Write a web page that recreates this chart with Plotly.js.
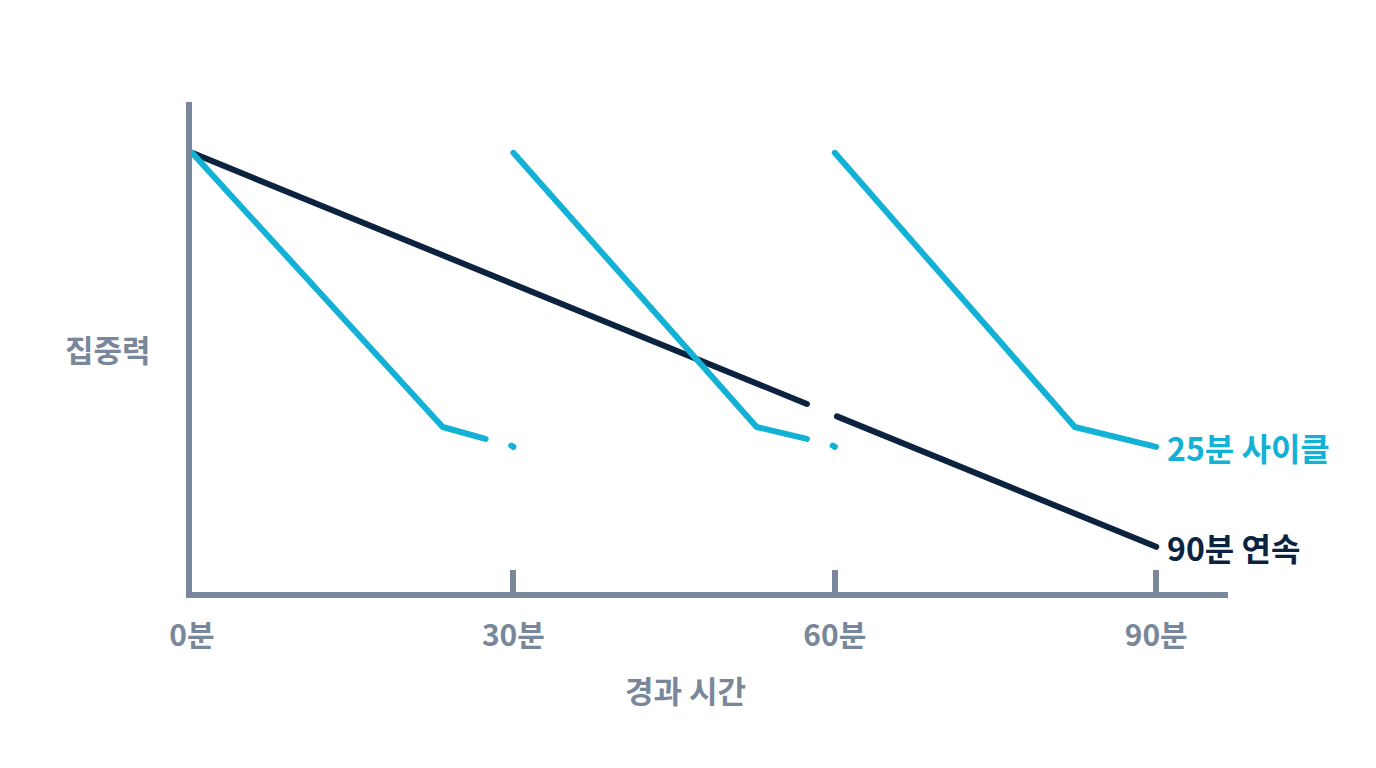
<!DOCTYPE html>
<html>
<head>
<meta charset="utf-8">
<script src="https://cdn.plot.ly/plotly-3.0.1.min.js"></script>
<style>
  html, body { margin: 0; padding: 0; background: #fff; }
  #chart { width: 1376px; height: 768px; }
</style>
</head>
<body>
<div id="chart"></div>
<script>
// Minutes elapsed and concentration level (null = short break in the line)
const cycleMinutes = [0, 23.4, 27.4, null, 29.8, 30, null, 30, 52.7, 57.4, null, 59.8, 60, null, 60, 82.4, 90];
const cycleFocus   = [100, 38, 35.3, null, 33.8, 33.5, null, 100, 38, 35.3, null, 33.8, 33.5, null, 100, 38, 33.5];

const straightMinutes = [0, 57.4, null, 60.2, 90];
const straightFocus   = [100, 43.2, null, 40.4, 10.9];

const tickMinutes = [0, 30, 60, 90];
const tickLabels  = ["0분", "30분", "60분", "90분"];

const CYAN = "#12b1d5";
const NAVY = "#0c2340";
const GRAY = "#78889a";
const FONT = "Noto Sans CJK KR, Noto Sans, sans-serif";

const traces = [
    {
        x: straightMinutes,
        y: straightFocus,
        mode: "lines",
        type: "scatter",
        line: { color: NAVY, width: 6 },
        connectgaps: false,
        hoverinfo: "skip"
    },
    {
        x: cycleMinutes,
        y: cycleFocus,
        mode: "lines",
        type: "scatter",
        line: { color: CYAN, width: 6 },
        connectgaps: false,
        hoverinfo: "skip"
    }
];

const layout = {
    width: 1376,
    height: 768,
    paper_bgcolor: "#fff",
    plot_bgcolor: "#fff",
    showlegend: false,
    // axis lines sit half a line width outside the plot area
    margin: { l: 192, r: 148, t: 102, b: 176 },
    xaxis: {
        range: [0, 96.7],
        showgrid: false,
        zeroline: false,
        showline: true,
        linecolor: GRAY,
        linewidth: 6,
        ticks: "inside",
        ticklen: 22,
        tickwidth: 6,
        tickcolor: GRAY,
        tickvals: tickMinutes,
        ticktext: tickLabels,
        ticklabelstandoff: 12,
        tickfont: { family: FONT, size: 30, color: GRAY, weight: 700 }
    },
    yaxis: {
        range: [0.68, 111.5],
        showgrid: false,
        zeroline: false,
        showline: true,
        linecolor: GRAY,
        linewidth: 6,
        showticklabels: false,
        ticks: ""
    },
    annotations: [
        {
            text: "<b>집중력</b>", xref: "paper", yref: "paper",
            x: -0.081, y: 0.497, xanchor: "center", yanchor: "middle",
            showarrow: false, font: { family: FONT, size: 31, color: GRAY }
        },
        {
            text: "<b>경과 시간</b>", xref: "paper", yref: "paper",
            x: 0.476, y: -0.198, xanchor: "center", yanchor: "middle",
            showarrow: false, font: { family: FONT, size: 31, color: GRAY }
        },
        {
            text: "<b>25분 사이클</b>", xref: "x", yref: "y",
            x: 90, y: 33.5, xanchor: "left", yanchor: "middle", xshift: 9,
            showarrow: false, font: { family: FONT, size: 32, color: CYAN }
        },
        {
            text: "<b>90분 연속</b>", xref: "x", yref: "y",
            x: 90, y: 10.9, xanchor: "left", yanchor: "middle", xshift: 9,
            showarrow: false, font: { family: FONT, size: 32, color: NAVY }
        }
    ]
};

Plotly.newPlot("chart", traces, layout, { displayModeBar: false, staticPlot: true }).then(gd => {
    // rounded line ends like the original drawing
    gd.querySelectorAll("path.js-line").forEach(p => {
        p.style.strokeLinecap = "round";
        p.style.strokeLinejoin = "round";
    });
});
</script>
</body>
</html>
